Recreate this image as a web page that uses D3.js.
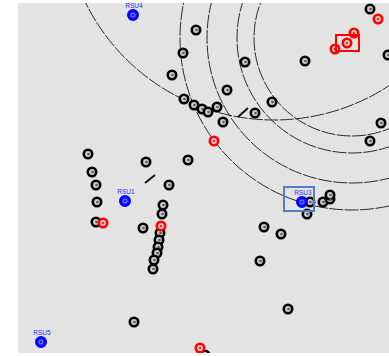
<!DOCTYPE html>
<html><head><meta charset="utf-8">
<script src="https://cdn.jsdelivr.net/npm/d3@7"></script>
<style>html,body{margin:0;padding:0;background:#fff;}svg{display:block;}</style>
</head><body>
<script>
// Field coordinates (metres from the top-left corner of the map area)
const vehiclesX = [178,165,154,166,176,184,190,199,209,227,254,237,205,70,128,170,74,352,287,370,363,352,
  78,79,78,151,145,144,125,142,141,140,139,136,135,116,289,292,305,312,312,246,263,242,270,187];
const vehiclesY = [27,50,72,96,102,106,109,104,87,59,99,110,119,151,159,157,169,6,58,52,120,138,
  182,199,219,182,202,211,225,230,237,244,250,257,266,319,211,199,199,196,192,224,231,258,306,352];
const alertX = [360,336,329,317,196,85,143,182];
const alertY = [16,30,40,46,138,220,223,345];
const rsuNames = ["RSU4","RSU1","RSU3","RSU5"];
const rsuX = [115,107,284,23];
const rsuY = [12,198,199,339];
const rangeCentreX = [334,334,334,334,256];
const rangeCentreY = [35,35,35,35,-93];
const rangeRadius = [98,115,145,172,210];
const segX1 = [220,127], segY1 = [114,180], segX2 = [230,137], segY2 = [105,172];
const alertBox = {x0:318,y0:32,x1:341,y1:48};
const rsuBox = {x0:266,y0:184,x1:296,y1:208};

const W = 389, H = 356;
const mLeft = 18, mTop = 3, pw = 371, ph = 350;
const x = d3.scaleLinear().domain([0,371]).range([mLeft,mLeft+pw]);
const y = d3.scaleLinear().domain([0,350]).range([mTop,mTop+ph]);
const k = (x(1)-x(0));

const svg = d3.select("body").append("svg").attr("width",W).attr("height",H);
svg.append("defs").append("clipPath").attr("id","clip")
  .append("rect").attr("x",mLeft).attr("y",mTop).attr("width",pw).attr("height",ph);
svg.append("rect").attr("x",mLeft).attr("y",mTop).attr("width",pw).attr("height",ph).attr("fill","#e3e3e3");
const g = svg.append("g").attr("clip-path","url(#clip)");

// range circles
g.selectAll("circle.range").data(rangeRadius).join("circle")
  .attr("class","range")
  .attr("cx",(d,i)=>x(rangeCentreX[i])).attr("cy",(d,i)=>y(rangeCentreY[i]))
  .attr("r",d=>d*k).attr("fill","none").attr("stroke","#2a2a2a").attr("stroke-width",1)
  .attr("stroke-dasharray","14,1.5");

g.selectAll("line.seg").data(segX1).join("line")
  .attr("x1",(d,i)=>x(segX1[i])).attr("y1",(d,i)=>y(segY1[i]))
  .attr("x2",(d,i)=>x(segX2[i])).attr("y2",(d,i)=>y(segY2[i]))
  .attr("stroke","#111").attr("stroke-width",2);

// vehicles
g.selectAll("circle.veh").data(vehiclesX).join("circle")
  .attr("class","veh")
  .attr("cx",(d,i)=>x(vehiclesX[i])).attr("cy",(d,i)=>y(vehiclesY[i]))
  .attr("r",4.2).attr("fill","#cfcfcf").attr("stroke","#000").attr("stroke-width",2.6);
g.selectAll("circle.vehdot").data(vehiclesX).join("circle")
  .attr("class","vehdot")
  .attr("cx",(d,i)=>x(vehiclesX[i])+0.5).attr("cy",(d,i)=>y(vehiclesY[i]))
  .attr("r",1.3).attr("fill","#555");

// alerts
g.selectAll("circle.alert").data(alertX).join("circle")
  .attr("class","alert")
  .attr("cx",(d,i)=>x(alertX[i])).attr("cy",(d,i)=>y(alertY[i]))
  .attr("r",4.2).attr("fill","#f3c9c9").attr("stroke","#f00").attr("stroke-width",2.6);
g.selectAll("circle.alertdot").data(alertX).join("circle")
  .attr("class","alertdot")
  .attr("cx",(d,i)=>x(alertX[i])).attr("cy",(d,i)=>y(alertY[i]))
  .attr("r",1.3).attr("fill","#e33");
g.append("rect").attr("x",x(alertBox.x0)).attr("y",y(alertBox.y0))
  .attr("width",x(alertBox.x1)-x(alertBox.x0)).attr("height",y(alertBox.y1)-y(alertBox.y0))
  .attr("fill","none").attr("stroke","#f00").attr("stroke-width",2);

// RSUs
g.append("rect").attr("x",x(rsuBox.x0)).attr("y",y(rsuBox.y0))
  .attr("width",x(rsuBox.x1)-x(rsuBox.x0)).attr("height",y(rsuBox.y1)-y(rsuBox.y0))
  .attr("fill","none").attr("stroke","#4f7fc6").attr("stroke-width",2);
g.selectAll("circle.rsu").data(rsuNames).join("circle")
  .attr("class","rsu")
  .attr("cx",(d,i)=>x(rsuX[i])).attr("cy",(d,i)=>y(rsuY[i]))
  .attr("r",4.8).attr("fill","#1a1aff").attr("stroke","#0000ff").attr("stroke-width",2.4);
g.selectAll("circle.rsuin").data(rsuNames).join("circle")
  .attr("class","rsuin")
  .attr("cx",(d,i)=>x(rsuX[i])).attr("cy",(d,i)=>y(rsuY[i]))
  .attr("r",2).attr("fill","none").attr("stroke","#9aa0ff").attr("stroke-width",0.8);
g.selectAll("text.rsu").data(rsuNames).join("text")
  .attr("class","rsu")
  .attr("x",(d,i)=>x(rsuX[i])+1).attr("y",(d,i)=>y(rsuY[i])-7)
  .attr("text-anchor","middle").attr("font-family","Liberation Sans, Arial, sans-serif")
  .attr("font-size",6.5).attr("fill","#2a2aff").text(d=>d);
</script>
</body></html>
